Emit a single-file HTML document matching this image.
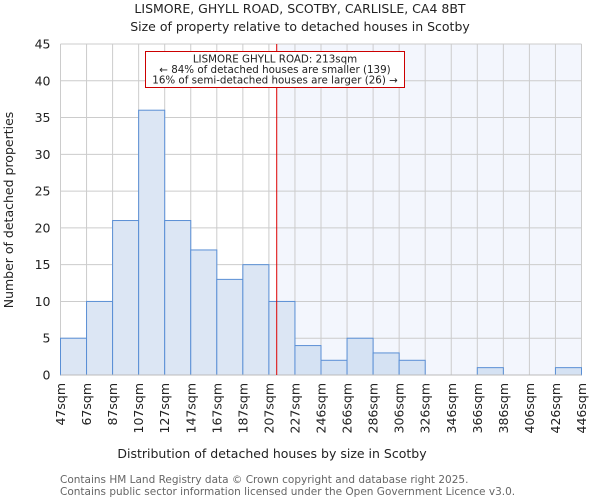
<!DOCTYPE html>
<html><head><meta charset="utf-8"><style>
body{margin:0;background:#fff;font-family:"DejaVu Sans","Liberation Sans",sans-serif;}
svg text{font-family:"DejaVu Sans","Liberation Sans",sans-serif;}
</style></head><body>
<svg id="c" width="600" height="500" xmlns="http://www.w3.org/2000/svg">
<text x="300" y="13" text-anchor="middle" font-size="12.5" fill="#222">LISMORE, GHYLL ROAD, SCOTBY, CARLISLE, CA4 8BT</text>
<text x="300" y="31" text-anchor="middle" font-size="12.5" fill="#222">Size of property relative to detached houses in Scotby</text>
<g id="plot"></g>
<text x="272" y="458" text-anchor="middle" font-size="12.5" fill="#222">Distribution of detached houses by size in Scotby</text>
<text transform="translate(13,210) rotate(-90)" text-anchor="middle" font-size="12.5" fill="#222">Number of detached properties</text>
<text x="60" y="483" font-size="10.5" fill="#666">Contains HM Land Registry data © Crown copyright and database right 2025.</text>
<text x="60" y="495" font-size="10.5" fill="#666">Contains public sector information licensed under the Open Government Licence v3.0.</text>
</svg>
<script>
const categories=["47sqm","67sqm","87sqm","107sqm","127sqm","147sqm","167sqm","187sqm","207sqm","227sqm","246sqm","266sqm","286sqm","306sqm","326sqm","346sqm","366sqm","386sqm","406sqm","426sqm","446sqm"];
const counts=[5,10,21,36,21,17,13,15,10,4,2,5,3,2,0,0,1,0,0,1];
const yTicks=[0,5,10,15,20,25,30,35,40,45];
const markerBin=8.3;
const NS="http://www.w3.org/2000/svg";
const X0=60.5,X1=581.5,Y0=375,Y1=44,YMAX=45;
const bw=(X1-X0)/counts.length;
const xs=i=>X0+i*bw;
const ys=v=>Y0-(v/YMAX)*(Y0-Y1);
const g=document.getElementById('plot');
function mk(t,a){const e=document.createElementNS(NS,t);for(const k in a)e.setAttribute(k,a[k]);g.appendChild(e);return e;}
const mx=xs(markerBin);
let e=mk('rect',{x:mx,y:Y1,width:X1-mx,height:Y0-Y1,fill:'#f3f6fd'});


yTicks.forEach(t=>{
 let l=mk('line',{x1:X0,x2:X1,y1:ys(t),y2:ys(t),stroke:'#cccccc','stroke-width':1});
 
 
 let tx=mk('text',{x:X0-10,y:ys(t)+4.5,'text-anchor':'end','font-size':'12.5',fill:'#222'});
 tx.textContent=t;
 
 
});
categories.forEach((c,i)=>{
 let l=mk('line',{x1:xs(i),x2:xs(i),y1:Y1,y2:Y0,stroke:'#cccccc','stroke-width':1});
 
 
 let tx=mk('text',{transform:`translate(${xs(i)+4.5},${Y0+8}) rotate(-90)`,'text-anchor':'end','font-size':'12.5',fill:'#222'});
 tx.textContent=c;
 
 
});
counts.forEach((v,i)=>{
 if(v<=0)return;
 let r=mk('rect',{x:xs(i),y:ys(v),width:bw,height:Y0-ys(v),fill:i>=9?'#d5e2f3':'#dce6f4',stroke:'#5a8fd5','stroke-width':1});
 
 
});
let ax=mk('line',{x1:X0,x2:X1,y1:Y0,y2:Y0,stroke:'#bbb','stroke-width':1});


let ml=mk('line',{x1:mx,x2:mx,y1:Y1,y2:Y0,stroke:'#dd0000','stroke-width':1});


let box=mk('rect',{x:145.5,y:51.5,width:259,height:36,fill:'#fff',stroke:'#cc0000','stroke-width':1});


["LISMORE GHYLL ROAD: 213sqm","← 84% of detached houses are smaller (139)","16% of semi-detached houses are larger (26) →"].forEach((s,i)=>{
 let t=mk('text',{x:275,y:62.5+i*10.5,'text-anchor':'middle','font-size':'10.3',fill:'#222'});
 t.textContent=s;
 
 
});
</script>
</body></html>
